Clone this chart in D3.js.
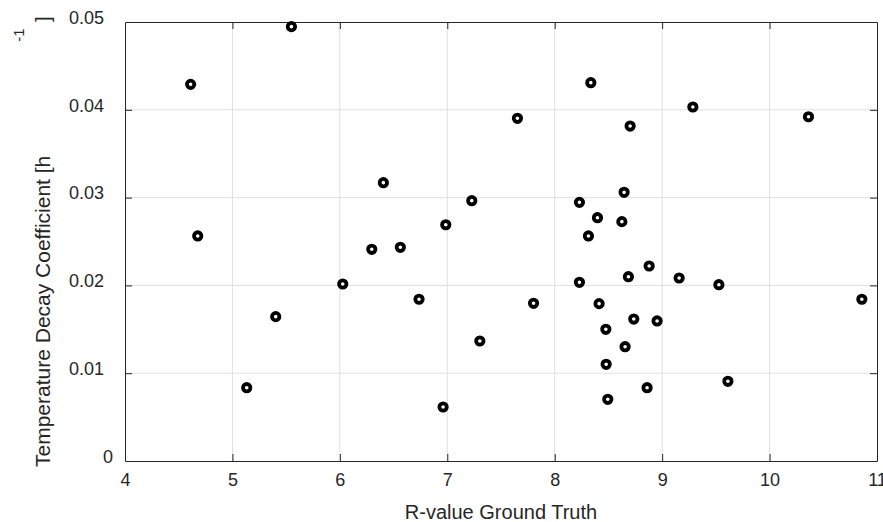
<!DOCTYPE html>
<html>
<head>
<meta charset="utf-8">
<script src="https://cdn.jsdelivr.net/npm/d3@7"></script>
<style>
    body { margin: 0; background: #fff; }
    text { font-family: "Liberation Sans", Arial, Helvetica, sans-serif; }
</style>
</head>
<body>
<div id="scatter"></div>
<script>
// R-value ground truth vs. fitted decay coefficient, one point per sample
var rValues = [4.611, 4.677, 5.133, 5.403, 5.549, 6.027, 6.297, 6.405, 6.563, 6.737,
               6.961, 6.986, 7.228, 7.303, 7.653, 7.803, 8.230, 8.230, 8.314, 8.336,
               8.398, 8.413, 8.476, 8.479, 8.494, 8.625, 8.646, 8.655, 8.686, 8.702,
               8.736, 8.860, 8.879, 8.953, 9.158, 9.286, 9.528, 9.612, 10.362, 10.859];
var decayValues = [0.04290, 0.02563, 0.00835, 0.01644, 0.04947, 0.02016, 0.02411, 0.03170, 0.02434, 0.01842,
                   0.00615, 0.02691, 0.02965, 0.01367, 0.03903, 0.01796, 0.02946, 0.02035, 0.02563, 0.04309,
                   0.02771, 0.01792, 0.01500, 0.01101, 0.00703, 0.02726, 0.03060, 0.01302, 0.02099, 0.03815,
                   0.01617, 0.00835, 0.02221, 0.01595, 0.02084, 0.04032, 0.02008, 0.00908, 0.03921, 0.01842];

var xTicks = [4, 5, 6, 7, 8, 9, 10, 11];
var yTicks = [0, 0.01, 0.02, 0.03, 0.04, 0.05];
var yTickLabels = ["0", "0.01", "0.02", "0.03", "0.04", "0.05"];

var xLabel = "R-value Ground Truth";
var yLabel = "Temperature Decay Coefficient [h";

function scatter(){
    var cfg = {
        w: 883,
        h: 522,
        left: 125,
        right: 6,
        top: 22,
        bottom: 61,
        axisColor: "#262626",
        gridColor: "#dfdfdf",
        tick: 7
    };

    var svg = d3.select("#scatter")
        .append("svg")
        .attr("width", cfg.w)
        .attr("height", cfg.h);

    var x = d3.scaleLinear()
        .domain([4, 11])
        .range([cfg.left, cfg.w - cfg.right]);
    var y = d3.scaleLinear()
        .domain([0, 0.05])
        .range([cfg.h - cfg.bottom, cfg.top]);

    // grid
    svg.append("g")
        .selectAll("line")
        .data(xTicks.slice(1, -1))
        .enter()
        .append("line")
        .attr("x1", d => x(d)).attr("x2", d => x(d))
        .attr("y1", y(0)).attr("y2", y(0.05))
        .attr("stroke", cfg.gridColor);
    svg.append("g")
        .selectAll("line")
        .data(yTicks.slice(1, -1))
        .enter()
        .append("line")
        .attr("y1", d => y(d)).attr("y2", d => y(d))
        .attr("x1", x(4)).attr("x2", x(11))
        .attr("stroke", cfg.gridColor);

    // axes, ticks pointing inward on all four sides
    var bottom = svg.append("g")
        .attr("transform", "translate(0," + y(0) + ")")
        .call(d3.axisBottom(x).tickValues(xTicks).tickFormat(d3.format("d"))
            .tickSizeInner(-cfg.tick).tickSizeOuter(0).tickPadding(12));
    var top = svg.append("g")
        .attr("transform", "translate(0," + y(0.05) + ")")
        .call(d3.axisTop(x).tickValues(xTicks).tickFormat("")
            .tickSizeInner(-cfg.tick).tickSizeOuter(0));
    var left = svg.append("g")
        .attr("transform", "translate(" + x(4) + ",0)")
        .call(d3.axisLeft(y).tickValues(yTicks).tickFormat((d, i) => yTickLabels[i])
            .tickSizeInner(-cfg.tick).tickSizeOuter(0).tickPadding(21));
    var right = svg.append("g")
        .attr("transform", "translate(" + x(11) + ",0)")
        .call(d3.axisRight(y).tickValues(yTicks).tickFormat("")
            .tickSizeInner(-cfg.tick).tickSizeOuter(0));

    [bottom, top, left, right].forEach(function(g) {
        g.select(".domain").attr("stroke", cfg.axisColor);
        g.selectAll(".tick line").attr("stroke", cfg.axisColor);
        g.selectAll(".tick text")
            .attr("fill", cfg.axisColor)
            .style("font-size", "18px");
        g.selectAll(".tick").filter(d => d === 4 || d === 11 || d === 0 || d === 0.05)
            .select("line").remove();
    });
    left.selectAll(".tick text").attr("dy", "0.07em");
    // the "0" label sits a bit right of the others in the original
    left.selectAll(".tick text").filter(d => d === 0).attr("x", -12);

    // points
    svg.append("g")
        .selectAll("circle")
        .data(rValues.map((r, i) => [r, decayValues[i]]))
        .enter()
        .append("circle")
        .attr("cx", d => x(d[0]))
        .attr("cy", d => y(d[1]))
        .attr("r", 3.7)
        .attr("fill", "#fff")
        .attr("stroke", "#000")
        .attr("stroke-width", 3.8);

    // labels
    svg.append("text")
        .attr("x", (x(4) + x(11)) / 2)
        .attr("y", 519)
        .attr("text-anchor", "middle")
        .attr("fill", cfg.axisColor)
        .style("font-size", "20px")
        .text(xLabel);

    svg.append("text")
        .attr("transform", "translate(50,467) rotate(-90)")
        .attr("fill", cfg.axisColor)
        .style("font-size", "21px")
        .text(yLabel);
    // superscript and closing bracket ended up near the top in the original
    svg.append("text")
        .attr("transform", "translate(24,35) rotate(-90)")
        .attr("text-anchor", "middle")
        .attr("fill", cfg.axisColor)
        .style("font-size", "15px")
        .text("-1");
    svg.append("text")
        .attr("transform", "translate(50,22) rotate(-90)")
        .attr("fill", cfg.axisColor)
        .style("font-size", "21px")
        .text("]");
}

window.onload = scatter;
</script>
</body>
</html>
